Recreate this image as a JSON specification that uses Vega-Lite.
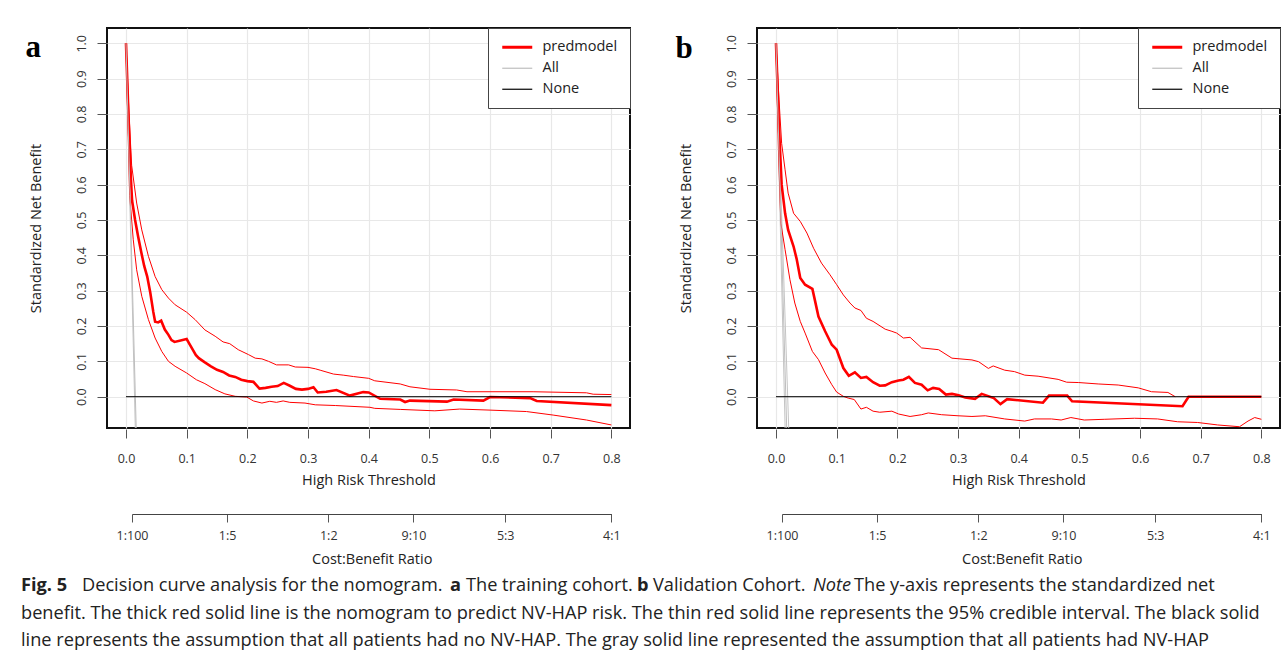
{
  "$schema": "https://vega.github.io/schema/vega-lite/v6.json",
  "background": "white",
  "padding": {"left": 21, "top": 26, "right": 0, "bottom": 0},
  "config": {
    "font": "Open Sans",
    "view": {"stroke": "#111", "strokeWidth": 2},
    "axis": {"labelFont": "Open Sans", "titleFont": "Open Sans", "labelColor": "#333", "titleColor": "#222", "titleFontWeight": "normal", "tickColor": "#555", "domainColor": "#444", "gridColor": "#e8e8e8", "gridWidth": 1.2, "labelFontSize": 12.5, "titleFontSize": 14.5, "labelFlush": false, "labelOverlap": false},
    "legend": {"labelFont": "Open Sans"}
  },
  "datasets": {
    "a": [
      {"curve":"predmodel","t":0,"v":1},{"curve":"predmodel","t":0.004,"v":0.8},{"curve":"predmodel","t":0.008,"v":0.62},{"curve":"predmodel","t":0.01,"v":0.555},{"curve":"predmodel","t":0.015,"v":0.5},{"curve":"predmodel","t":0.02,"v":0.453},{"curve":"predmodel","t":0.025,"v":0.41},{"curve":"predmodel","t":0.03,"v":0.37},{"curve":"predmodel","t":0.035,"v":0.34},{"curve":"predmodel","t":0.04,"v":0.295},{"curve":"predmodel","t":0.045,"v":0.24},{"curve":"predmodel","t":0.048,"v":0.212},{"curve":"predmodel","t":0.053,"v":0.21},{"curve":"predmodel","t":0.058,"v":0.215},{"curve":"predmodel","t":0.064,"v":0.19},{"curve":"predmodel","t":0.07,"v":0.175},{"curve":"predmodel","t":0.075,"v":0.16},{"curve":"predmodel","t":0.08,"v":0.155},{"curve":"predmodel","t":0.09,"v":0.159},{"curve":"predmodel","t":0.1,"v":0.163},{"curve":"predmodel","t":0.105,"v":0.148},{"curve":"predmodel","t":0.11,"v":0.133},{"curve":"predmodel","t":0.115,"v":0.118},{"curve":"predmodel","t":0.12,"v":0.109},{"curve":"predmodel","t":0.13,"v":0.097},{"curve":"predmodel","t":0.14,"v":0.086},{"curve":"predmodel","t":0.15,"v":0.076},{"curve":"predmodel","t":0.16,"v":0.07},{"curve":"predmodel","t":0.17,"v":0.06},{"curve":"predmodel","t":0.18,"v":0.056},{"curve":"predmodel","t":0.19,"v":0.048},{"curve":"predmodel","t":0.2,"v":0.044},{"curve":"predmodel","t":0.21,"v":0.042},{"curve":"predmodel","t":0.22,"v":0.023},{"curve":"predmodel","t":0.23,"v":0.025},{"curve":"predmodel","t":0.24,"v":0.028},{"curve":"predmodel","t":0.25,"v":0.03},{"curve":"predmodel","t":0.26,"v":0.039},{"curve":"predmodel","t":0.27,"v":0.031},{"curve":"predmodel","t":0.28,"v":0.022},{"curve":"predmodel","t":0.29,"v":0.02},{"curve":"predmodel","t":0.3,"v":0.022},{"curve":"predmodel","t":0.309,"v":0.027},{"curve":"predmodel","t":0.316,"v":0.012},{"curve":"predmodel","t":0.33,"v":0.014},{"curve":"predmodel","t":0.347,"v":0.019},{"curve":"predmodel","t":0.369,"v":0.003},{"curve":"predmodel","t":0.391,"v":0.013},{"curve":"predmodel","t":0.4,"v":0.012},{"curve":"predmodel","t":0.419,"v":-0.006},{"curve":"predmodel","t":0.452,"v":-0.008},{"curve":"predmodel","t":0.46,"v":-0.015},{"curve":"predmodel","t":0.468,"v":-0.011},{"curve":"predmodel","t":0.529,"v":-0.014},{"curve":"predmodel","t":0.54,"v":-0.008},{"curve":"predmodel","t":0.589,"v":-0.011},{"curve":"predmodel","t":0.6,"v":-0.001},{"curve":"predmodel","t":0.666,"v":-0.004},{"curve":"predmodel","t":0.677,"v":-0.012},{"curve":"predmodel","t":0.8,"v":-0.024},
      {"curve":"upper","t":0,"v":1},{"curve":"upper","t":0.005,"v":0.8},{"curve":"upper","t":0.0093,"v":0.655},{"curve":"upper","t":0.0176,"v":0.548},{"curve":"upper","t":0.026,"v":0.472},{"curve":"upper","t":0.037,"v":0.397},{"curve":"upper","t":0.048,"v":0.34},{"curve":"upper","t":0.059,"v":0.303},{"curve":"upper","t":0.07,"v":0.279},{"curve":"upper","t":0.081,"v":0.26},{"curve":"upper","t":0.1,"v":0.239},{"curve":"upper","t":0.114,"v":0.218},{"curve":"upper","t":0.13,"v":0.189},{"curve":"upper","t":0.147,"v":0.171},{"curve":"upper","t":0.16,"v":0.155},{"curve":"upper","t":0.171,"v":0.15},{"curve":"upper","t":0.185,"v":0.133},{"curve":"upper","t":0.202,"v":0.119},{"curve":"upper","t":0.213,"v":0.109},{"curve":"upper","t":0.224,"v":0.107},{"curve":"upper","t":0.235,"v":0.1},{"curve":"upper","t":0.248,"v":0.09},{"curve":"upper","t":0.268,"v":0.09},{"curve":"upper","t":0.279,"v":0.084},{"curve":"upper","t":0.3,"v":0.083},{"curve":"upper","t":0.312,"v":0.079},{"curve":"upper","t":0.32,"v":0.075},{"curve":"upper","t":0.342,"v":0.064},{"curve":"upper","t":0.358,"v":0.061},{"curve":"upper","t":0.375,"v":0.057},{"curve":"upper","t":0.4,"v":0.052},{"curve":"upper","t":0.41,"v":0.045},{"curve":"upper","t":0.452,"v":0.036},{"curve":"upper","t":0.468,"v":0.028},{"curve":"upper","t":0.501,"v":0.021},{"curve":"upper","t":0.545,"v":0.019},{"curve":"upper","t":0.562,"v":0.014},{"curve":"upper","t":0.6,"v":0.014},{"curve":"upper","t":0.671,"v":0.014},{"curve":"upper","t":0.759,"v":0.011},{"curve":"upper","t":0.77,"v":0.007},{"curve":"upper","t":0.8,"v":0.006},
      {"curve":"lower","t":0,"v":1},{"curve":"lower","t":0.006,"v":0.57},{"curve":"lower","t":0.012,"v":0.444},{"curve":"lower","t":0.0176,"v":0.359},{"curve":"lower","t":0.026,"v":0.284},{"curve":"lower","t":0.037,"v":0.218},{"curve":"lower","t":0.048,"v":0.166},{"curve":"lower","t":0.059,"v":0.128},{"curve":"lower","t":0.07,"v":0.1},{"curve":"lower","t":0.081,"v":0.086},{"curve":"lower","t":0.1,"v":0.067},{"curve":"lower","t":0.116,"v":0.048},{"curve":"lower","t":0.13,"v":0.037},{"curve":"lower","t":0.147,"v":0.02},{"curve":"lower","t":0.163,"v":0.008},{"curve":"lower","t":0.18,"v":0.001},{"curve":"lower","t":0.199,"v":-0.001},{"curve":"lower","t":0.21,"v":-0.012},{"curve":"lower","t":0.224,"v":-0.018},{"curve":"lower","t":0.237,"v":-0.013},{"curve":"lower","t":0.248,"v":-0.016},{"curve":"lower","t":0.259,"v":-0.012},{"curve":"lower","t":0.27,"v":-0.016},{"curve":"lower","t":0.295,"v":-0.018},{"curve":"lower","t":0.312,"v":-0.023},{"curve":"lower","t":0.345,"v":-0.025},{"curve":"lower","t":0.402,"v":-0.03},{"curve":"lower","t":0.41,"v":-0.033},{"curve":"lower","t":0.452,"v":-0.036},{"curve":"lower","t":0.509,"v":-0.04},{"curve":"lower","t":0.55,"v":-0.035},{"curve":"lower","t":0.6,"v":-0.038},{"curve":"lower","t":0.66,"v":-0.042},{"curve":"lower","t":0.704,"v":-0.052},{"curve":"lower","t":0.759,"v":-0.066},{"curve":"lower","t":0.8,"v":-0.08},
      {"curve":"All","t":0,"v":1},{"curve":"All","t":0.017,"v":-0.1},
      {"curve":"All_lo","t":0,"v":1},{"curve":"All_lo","t":0.0155,"v":-0.1},
      {"curve":"None","t":0,"v":0},{"curve":"None","t":0.8,"v":0}
    ],
    "b": [
      {"curve":"predmodel","t":0,"v":1},{"curve":"predmodel","t":0.005,"v":0.76},{"curve":"predmodel","t":0.0093,"v":0.6},{"curve":"predmodel","t":0.015,"v":0.519},{"curve":"predmodel","t":0.02,"v":0.472},{"curve":"predmodel","t":0.029,"v":0.425},{"curve":"predmodel","t":0.034,"v":0.39},{"curve":"predmodel","t":0.04,"v":0.336},{"curve":"predmodel","t":0.048,"v":0.317},{"curve":"predmodel","t":0.06,"v":0.305},{"curve":"predmodel","t":0.064,"v":0.274},{"curve":"predmodel","t":0.07,"v":0.227},{"curve":"predmodel","t":0.081,"v":0.185},{"curve":"predmodel","t":0.092,"v":0.147},{"curve":"predmodel","t":0.1,"v":0.133},{"curve":"predmodel","t":0.111,"v":0.081},{"curve":"predmodel","t":0.12,"v":0.059},{"curve":"predmodel","t":0.13,"v":0.069},{"curve":"predmodel","t":0.14,"v":0.053},{"curve":"predmodel","t":0.149,"v":0.056},{"curve":"predmodel","t":0.16,"v":0.041},{"curve":"predmodel","t":0.171,"v":0.031},{"curve":"predmodel","t":0.18,"v":0.032},{"curve":"predmodel","t":0.191,"v":0.041},{"curve":"predmodel","t":0.202,"v":0.046},{"curve":"predmodel","t":0.21,"v":0.048},{"curve":"predmodel","t":0.219,"v":0.056},{"curve":"predmodel","t":0.229,"v":0.039},{"curve":"predmodel","t":0.24,"v":0.034},{"curve":"predmodel","t":0.25,"v":0.018},{"curve":"predmodel","t":0.259,"v":0.025},{"curve":"predmodel","t":0.269,"v":0.022},{"curve":"predmodel","t":0.28,"v":0.006},{"curve":"predmodel","t":0.29,"v":0.008},{"curve":"predmodel","t":0.301,"v":0.004},{"curve":"predmodel","t":0.312,"v":-0.002},{"curve":"predmodel","t":0.328,"v":-0.006},{"curve":"predmodel","t":0.339,"v":0.008},{"curve":"predmodel","t":0.359,"v":-0.004},{"curve":"predmodel","t":0.37,"v":-0.021},{"curve":"predmodel","t":0.381,"v":-0.007},{"curve":"predmodel","t":0.44,"v":-0.017},{"curve":"predmodel","t":0.45,"v":0.003},{"curve":"predmodel","t":0.48,"v":0.003},{"curve":"predmodel","t":0.488,"v":-0.013},{"curve":"predmodel","t":0.67,"v":-0.027},{"curve":"predmodel","t":0.68,"v":0},{"curve":"predmodel","t":0.8,"v":0},
      {"curve":"upper","t":0,"v":1},{"curve":"upper","t":0.005,"v":0.84},{"curve":"upper","t":0.0093,"v":0.717},{"curve":"upper","t":0.015,"v":0.642},{"curve":"upper","t":0.02,"v":0.576},{"curve":"upper","t":0.029,"v":0.519},{"curve":"upper","t":0.04,"v":0.496},{"curve":"upper","t":0.051,"v":0.463},{"curve":"upper","t":0.062,"v":0.42},{"curve":"upper","t":0.075,"v":0.378},{"curve":"upper","t":0.089,"v":0.345},{"curve":"upper","t":0.1,"v":0.317},{"curve":"upper","t":0.111,"v":0.288},{"curve":"upper","t":0.122,"v":0.265},{"curve":"upper","t":0.13,"v":0.251},{"curve":"upper","t":0.14,"v":0.244},{"curve":"upper","t":0.149,"v":0.222},{"curve":"upper","t":0.16,"v":0.213},{"curve":"upper","t":0.18,"v":0.191},{"curve":"upper","t":0.191,"v":0.185},{"curve":"upper","t":0.199,"v":0.18},{"curve":"upper","t":0.21,"v":0.166},{"curve":"upper","t":0.221,"v":0.168},{"curve":"upper","t":0.24,"v":0.138},{"curve":"upper","t":0.268,"v":0.133},{"curve":"upper","t":0.29,"v":0.109},{"curve":"upper","t":0.323,"v":0.104},{"curve":"upper","t":0.334,"v":0.099},{"curve":"upper","t":0.35,"v":0.08},{"curve":"upper","t":0.358,"v":0.087},{"curve":"upper","t":0.377,"v":0.075},{"curve":"upper","t":0.393,"v":0.071},{"curve":"upper","t":0.41,"v":0.061},{"curve":"upper","t":0.432,"v":0.058},{"curve":"upper","t":0.465,"v":0.049},{"curve":"upper","t":0.479,"v":0.041},{"curve":"upper","t":0.499,"v":0.04},{"curve":"upper","t":0.531,"v":0.036},{"curve":"upper","t":0.564,"v":0.033},{"curve":"upper","t":0.597,"v":0.025},{"curve":"upper","t":0.619,"v":0.014},{"curve":"upper","t":0.646,"v":0.012},{"curve":"upper","t":0.658,"v":0},
      {"curve":"lower","t":0,"v":1},{"curve":"lower","t":0.004,"v":0.7},{"curve":"lower","t":0.008,"v":0.491},{"curve":"lower","t":0.015,"v":0.416},{"curve":"lower","t":0.023,"v":0.331},{"curve":"lower","t":0.031,"v":0.265},{"curve":"lower","t":0.04,"v":0.213},{"curve":"lower","t":0.048,"v":0.18},{"curve":"lower","t":0.06,"v":0.128},{"curve":"lower","t":0.07,"v":0.105},{"curve":"lower","t":0.081,"v":0.067},{"curve":"lower","t":0.092,"v":0.034},{"curve":"lower","t":0.1,"v":0.013},{"curve":"lower","t":0.111,"v":0.001},{"curve":"lower","t":0.119,"v":-0.004},{"curve":"lower","t":0.129,"v":-0.008},{"curve":"lower","t":0.14,"v":-0.035},{"curve":"lower","t":0.149,"v":-0.03},{"curve":"lower","t":0.16,"v":-0.041},{"curve":"lower","t":0.171,"v":-0.044},{"curve":"lower","t":0.191,"v":-0.041},{"curve":"lower","t":0.202,"v":-0.049},{"curve":"lower","t":0.221,"v":-0.056},{"curve":"lower","t":0.24,"v":-0.051},{"curve":"lower","t":0.251,"v":-0.046},{"curve":"lower","t":0.273,"v":-0.051},{"curve":"lower","t":0.3,"v":-0.054},{"curve":"lower","t":0.323,"v":-0.056},{"curve":"lower","t":0.345,"v":-0.054},{"curve":"lower","t":0.377,"v":-0.063},{"curve":"lower","t":0.41,"v":-0.069},{"curve":"lower","t":0.426,"v":-0.063},{"curve":"lower","t":0.454,"v":-0.063},{"curve":"lower","t":0.47,"v":-0.066},{"curve":"lower","t":0.486,"v":-0.059},{"curve":"lower","t":0.508,"v":-0.066},{"curve":"lower","t":0.541,"v":-0.064},{"curve":"lower","t":0.591,"v":-0.061},{"curve":"lower","t":0.629,"v":-0.063},{"curve":"lower","t":0.662,"v":-0.071},{"curve":"lower","t":0.695,"v":-0.073},{"curve":"lower","t":0.728,"v":-0.08},{"curve":"lower","t":0.764,"v":-0.085},{"curve":"lower","t":0.778,"v":-0.069},{"curve":"lower","t":0.789,"v":-0.059},{"curve":"lower","t":0.8,"v":-0.064},
      {"curve":"All","t":0,"v":1},{"curve":"All","t":0.0178,"v":-0.1},
      {"curve":"All_lo","t":0,"v":1},{"curve":"All_lo","t":0.0152,"v":-0.1},
      {"curve":"All_hi","t":0,"v":1},{"curve":"All_hi","t":0.0212,"v":-0.1},
      {"curve":"None","t":0,"v":0},{"curve":"None","t":0.8,"v":0}
    ],
    "cost": [{"t":0.0099},{"t":0.1667},{"t":0.3333},{"t":0.4737},{"t":0.625},{"t":0.8}],
    "cap": [
      {"seg":"fig","line":1,"text":"Fig. 5"},
      {"seg":"dec","line":1,"text":"Decision curve analysis for the nomogram."},
      {"seg":"a","line":1,"text":"a"},
      {"seg":"tc","line":1,"text":"The training cohort."},
      {"seg":"b","line":1,"text":"b"},
      {"seg":"vc","line":1,"text":"Validation Cohort."},
      {"seg":"note","line":1,"text":"Note"},
      {"seg":"rest","line":1,"text":"The y-axis represents the standardized net"},
      {"seg":"l2","line":2,"text":"benefit. The thick red solid line is the nomogram to predict NV-HAP risk. The thin red solid line represents the 95% credible interval. The black solid"},
      {"seg":"l3","line":3,"text":"line represents the assumption that all patients had no NV-HAP. The gray solid line represented the assumption that all patients had NV-HAP"}
    ]
  },
  "spacing": 9,
  "vconcat": [
    {
      "spacing": 42,
      "resolve": {"scale": {"color": "independent"}, "legend": {"color": "independent"}},
      "hconcat": [
        {
          "width": 523, "height": 400,
          "resolve": {"scale": {"x": "independent", "y": "independent"}, "axis": {"x": "independent", "y": "independent"}},
          "layer": [
            {
              "data": {"name": "a"},
              "encoding": {
                "x": {"field": "t", "type": "quantitative", "scale": {"domain": [-0.0313, 0.8307], "nice": false, "zero": false},
                      "axis": {"values": [0,0.1,0.2,0.3,0.4,0.5,0.6,0.7,0.8], "format": ".1f", "title": "High Risk Threshold", "domain": false, "offset": 1, "tickSize": 9, "labelPadding": 14, "titlePadding": 9, "grid": true}},
                "y": {"field": "v", "type": "quantitative", "scale": {"domain": [-0.0886, 1.0433], "nice": false, "zero": false},
                      "axis": {"values": [0,0.1,0.2,0.3,0.4,0.5,0.6,0.7,0.8,0.9,1.0], "format": ".1f", "title": "Standardized Net Benefit", "domain": false, "tickSize": 10, "labelAngle": 270, "labelAlign": "center", "labelBaseline": "alphabetic", "labelPadding": 12, "titlePadding": 35, "titleBaseline": "alphabetic", "grid": true}}
              },
              "layer": [
                {"transform": [{"filter": {"field": "curve", "oneOf": ["All_lo", "All_hi"]}}], "mark": {"type": "line", "clip": true, "color": "#c4c4c4", "strokeWidth": 1}, "encoding": {"detail": {"field": "curve"}}},
                {"transform": [{"filter": {"field": "curve", "oneOf": ["lower", "upper"]}}], "mark": {"type": "line", "clip": true, "color": "#ff0000", "strokeWidth": 1}, "encoding": {"detail": {"field": "curve"}}},
                {"transform": [{"filter": {"field": "curve", "oneOf": ["predmodel", "All", "None"]}}], "mark": {"type": "line", "clip": true},
                 "encoding": {
                   "color": {"field": "curve", "type": "nominal", "scale": {"domain": ["predmodel", "All", "None"], "range": ["#ff0000", "#bebebe", "#000000"]},
                     "legend": {"title": null, "orient": "top-right", "offset": 0, "padding": 12, "strokeColor": "#444", "fillColor": "#ffffff", "symbolType": "M-0.5,0L2.5,0", "symbolSize": 400, "labelFontSize": 14.5, "labelColor": "#222", "labelOffset": 28, "rowPadding": 6,
                       "encode": {"symbols": {"update": {"strokeWidth": {"signal": "datum.value === 'predmodel' ? 3 : 1.2"}}}}}},
                   "strokeWidth": {"condition": {"test": "datum.curve === 'predmodel'", "value": 2.6}, "value": 1}
                 }}
              ]
            },
            {
              "data": {"name": "cost"},
              "mark": {"type": "tick", "opacity": 0},
              "encoding": {
                "x": {"field": "t", "type": "quantitative", "scale": {"domain": [0.0099, 0.8], "range": [25, 504.4], "nice": false, "zero": false},
                      "axis": {"orient": "bottom", "offset": 86, "values": [0.0099, 0.1667, 0.3333, 0.4737, 0.625, 0.8], "labelExpr": "datum.value < 0.05 ? '1:100' : datum.value < 0.25 ? '1:5' : datum.value < 0.4 ? '1:2' : datum.value < 0.55 ? '9:10' : datum.value < 0.7 ? '5:3' : '4:1'", "title": "Cost:Benefit Ratio", "domain": true, "tickSize": 8, "labelPadding": 7, "titlePadding": 11, "grid": false}},
                "y": {"field": "t", "type": "quantitative", "scale": {"domain": [0, 1]},
                      "axis": {"orient": "left", "title": "a", "titleAngle": 0, "titleFont": "Liberation Serif", "titleFontSize": 31, "titleFontWeight": "bold", "titleColor": "#000", "titleX": -82, "titleY": 28, "titleAlign": "left", "titleBaseline": "alphabetic", "labels": false, "ticks": false, "domain": false, "grid": false}}
              }
            }
          ]
        },
        {
          "width": 523, "height": 400,
          "resolve": {"scale": {"x": "independent", "y": "independent"}, "axis": {"x": "independent", "y": "independent"}},
          "layer": [
            {
              "data": {"name": "b"},
              "encoding": {
                "x": {"field": "t", "type": "quantitative", "scale": {"domain": [-0.0313, 0.8307], "nice": false, "zero": false},
                      "axis": {"values": [0,0.1,0.2,0.3,0.4,0.5,0.6,0.7,0.8], "format": ".1f", "title": "High Risk Threshold", "domain": false, "offset": 1, "tickSize": 9, "labelPadding": 14, "titlePadding": 9, "grid": true}},
                "y": {"field": "v", "type": "quantitative", "scale": {"domain": [-0.0886, 1.0433], "nice": false, "zero": false},
                      "axis": {"values": [0,0.1,0.2,0.3,0.4,0.5,0.6,0.7,0.8,0.9,1.0], "format": ".1f", "title": "Standardized Net Benefit", "domain": false, "tickSize": 10, "labelAngle": 270, "labelAlign": "center", "labelBaseline": "alphabetic", "labelPadding": 12, "titlePadding": 35, "titleBaseline": "alphabetic", "grid": true}}
              },
              "layer": [
                {"transform": [{"filter": {"field": "curve", "oneOf": ["All_lo", "All_hi"]}}], "mark": {"type": "line", "clip": true, "color": "#c4c4c4", "strokeWidth": 1}, "encoding": {"detail": {"field": "curve"}}},
                {"transform": [{"filter": {"field": "curve", "oneOf": ["lower", "upper"]}}], "mark": {"type": "line", "clip": true, "color": "#ff0000", "strokeWidth": 1}, "encoding": {"detail": {"field": "curve"}}},
                {"transform": [{"filter": {"field": "curve", "oneOf": ["predmodel", "All", "None"]}}], "mark": {"type": "line", "clip": true},
                 "encoding": {
                   "color": {"field": "curve", "type": "nominal", "scale": {"domain": ["predmodel", "All", "None"], "range": ["#ff0000", "#bebebe", "#000000"]},
                     "legend": {"title": null, "orient": "top-right", "offset": 0, "padding": 12, "strokeColor": "#444", "fillColor": "#ffffff", "symbolType": "M-0.5,0L2.5,0", "symbolSize": 400, "labelFontSize": 14.5, "labelColor": "#222", "labelOffset": 28, "rowPadding": 6,
                       "encode": {"symbols": {"update": {"strokeWidth": {"signal": "datum.value === 'predmodel' ? 3 : 1.2"}}}}}},
                   "strokeWidth": {"condition": {"test": "datum.curve === 'predmodel'", "value": 2.6}, "value": 1}
                 }}
              ]
            },
            {
              "data": {"name": "cost"},
              "mark": {"type": "tick", "opacity": 0},
              "encoding": {
                "x": {"field": "t", "type": "quantitative", "scale": {"domain": [0.0099, 0.8], "range": [25, 504.4], "nice": false, "zero": false},
                      "axis": {"orient": "bottom", "offset": 86, "values": [0.0099, 0.1667, 0.3333, 0.4737, 0.625, 0.8], "labelExpr": "datum.value < 0.05 ? '1:100' : datum.value < 0.25 ? '1:5' : datum.value < 0.4 ? '1:2' : datum.value < 0.55 ? '9:10' : datum.value < 0.7 ? '5:3' : '4:1'", "title": "Cost:Benefit Ratio", "domain": true, "tickSize": 8, "labelPadding": 7, "titlePadding": 11, "grid": false}},
                "y": {"field": "t", "type": "quantitative", "scale": {"domain": [0, 1]},
                      "axis": {"orient": "left", "title": "b", "titleAngle": 0, "titleFont": "Liberation Serif", "titleFontSize": 31, "titleFontWeight": "bold", "titleColor": "#000", "titleX": -82, "titleY": 29, "titleAlign": "left", "titleBaseline": "alphabetic", "labels": false, "ticks": false, "domain": false, "grid": false}}
              }
            }
          ]
        }
      ]
    },
    {
      "width": 1240, "height": 55,
      "view": {"stroke": null},
      "data": {"name": "cap"},
      "encoding": {
        "y": {"field": "line", "type": "ordinal", "axis": null, "scale": {"type": "point", "padding": 0}},
        "x": {"value": 0},
        "text": {"field": "text"}
      },
      "layer": [
        {"transform": [{"filter": "datum.seg === 'fig'"}], "mark": {"type": "text", "align": "left", "baseline": "middle", "font": "Open Sans", "fontSize": 18.2, "fontWeight": "bold", "color": "#222", "dx": -86}},
        {"transform": [{"filter": "datum.seg === 'dec'"}], "mark": {"type": "text", "align": "left", "baseline": "middle", "font": "Open Sans", "fontSize": 18.2, "color": "#222", "dx": -25}},
        {"transform": [{"filter": "datum.seg === 'a'"}], "mark": {"type": "text", "align": "left", "baseline": "middle", "font": "Open Sans", "fontSize": 18.2, "fontWeight": "bold", "color": "#222", "dx": 343}},
        {"transform": [{"filter": "datum.seg === 'tc'"}], "mark": {"type": "text", "align": "left", "baseline": "middle", "font": "Open Sans", "fontSize": 18.2, "color": "#222", "dx": 359}},
        {"transform": [{"filter": "datum.seg === 'b'"}], "mark": {"type": "text", "align": "left", "baseline": "middle", "font": "Open Sans", "fontSize": 18.2, "fontWeight": "bold", "color": "#222", "dx": 530}},
        {"transform": [{"filter": "datum.seg === 'vc'"}], "mark": {"type": "text", "align": "left", "baseline": "middle", "font": "Open Sans", "fontSize": 18.2, "color": "#222", "dx": 546}},
        {"transform": [{"filter": "datum.seg === 'note'"}], "mark": {"type": "text", "align": "left", "baseline": "middle", "font": "Open Sans", "fontSize": 18.2, "fontStyle": "italic", "color": "#222", "dx": 706}},
        {"transform": [{"filter": "datum.seg === 'rest'"}], "mark": {"type": "text", "align": "left", "baseline": "middle", "font": "Open Sans", "fontSize": 18.2, "color": "#222", "dx": 747}},
        {"transform": [{"filter": {"field": "seg", "oneOf": ["l2", "l3"]}}], "mark": {"type": "text", "align": "left", "baseline": "middle", "font": "Open Sans", "fontSize": 18.2, "color": "#222", "dx": -86}}
      ]
    }
  ]
}
